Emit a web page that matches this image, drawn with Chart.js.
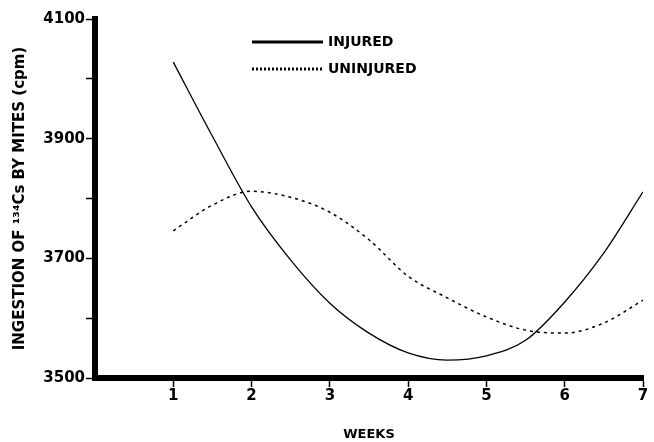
<!DOCTYPE html>
<html>
<head>
<meta charset="utf-8">
<script src="https://cdn.jsdelivr.net/npm/chart.js@4/dist/chart.umd.min.js"></script>
<style>
  html, body { margin: 0; padding: 0; background: #fff; }
  #wrap { width: 654px; height: 442px; position: relative; }
</style>
</head>
<body>
<div id="wrap"><canvas id="chart"></canvas></div>
<script>
// 数据
const seriesLabels = ['INJURED', 'UNINJURED'];
const injuredWeeks = [1, 1.5, 2, 2.5, 3, 3.5, 4, 4.5, 5, 5.5, 6, 6.5, 7];
const injuredValues = [4028, 3904, 3786, 3697, 3625, 3575, 3542, 3530, 3537, 3563, 3627, 3709, 3811];
const uninjuredWeeks = [1, 1.5, 2, 2.5, 3, 3.5, 4, 4.5, 5, 5.5, 6, 6.5, 7];
const uninjuredValues = [3746, 3789, 3812, 3802, 3777, 3731, 3670, 3634, 3602, 3580, 3575, 3592, 3630];
const yLabelled = [3500, 3700, 3900, 4100];

const FONT = '"DejaVu Sans", "Liberation Sans", sans-serif';

function toPoints(xs, ys) {
    return xs.map((x, i) => ({ x: x, y: ys[i] }));
}

// 图内图例
const inlineLegend = {
    id: 'inlineLegend',
    afterDraw(chart) {
        const ctx = chart.ctx;
        const rows = [42, 69];
        ctx.save();
        chart.data.datasets.forEach((ds, i) => {
            const y = rows[i];
            ctx.beginPath();
            ctx.strokeStyle = '#000';
            ctx.lineWidth = 3;
            ctx.setLineDash(ds.borderDash && ds.borderDash.length ? [2, 2] : []);
            ctx.moveTo(252, y);
            ctx.lineTo(323, y);
            ctx.stroke();
            ctx.setLineDash([]);
            ctx.fillStyle = '#000';
            ctx.font = 'bold 14px ' + FONT;
            ctx.textBaseline = 'middle';
            ctx.textAlign = 'left';
            ctx.fillText(ds.label, 328, y);
        });
        ctx.restore();
    }
};

new Chart(document.getElementById('chart'), {
    type: 'line',
    data: {
        datasets: [
            {
                label: seriesLabels[0],
                data: toPoints(injuredWeeks, injuredValues),
                borderColor: '#000',
                borderWidth: 1.3,
                pointRadius: 0,
                cubicInterpolationMode: 'monotone',
                fill: false
            },
            {
                label: seriesLabels[1],
                data: toPoints(uninjuredWeeks, uninjuredValues),
                borderColor: '#000',
                borderWidth: 1.5,
                borderDash: [3, 4],
                pointRadius: 0,
                cubicInterpolationMode: 'monotone',
                fill: false
            }
        ]
    },
    options: {
        responsive: true,
        maintainAspectRatio: false,
        animation: false,
        layout: { padding: { top: 19, right: 11, bottom: 0, left: 0 } },
        plugins: {
            legend: { display: false },
            tooltip: { enabled: false }
        },
        scales: {
            x: {
                type: 'linear',
                min: 0,
                max: 7,
                afterFit: function(scale) { scale.height = 64; },
                border: { display: true, color: '#000', width: 6 },
                grid: {
                    drawOnChartArea: false,
                    drawTicks: true,
                    tickLength: 9,
                    tickWidth: 1.5,
                    tickColor: function(c) { return c.tick && c.tick.value === 0 ? 'rgba(0,0,0,0)' : '#000'; }
                },
                ticks: {
                    stepSize: 1,
                    padding: 0,
                    color: '#000',
                    font: { family: FONT, size: 15, weight: 'bold' },
                    callback: function(value) { return value === 0 ? '' : value; }
                },
                title: {
                    display: true,
                    text: 'WEEKS',
                    color: '#000',
                    font: { family: FONT, size: 13, weight: 'bold' },
                    padding: { top: 0, bottom: 0 }
                }
            },
            y: {
                min: 3500,
                max: 4100,
                afterFit: function(scale) { scale.width = 95; },
                border: { display: true, color: '#000', width: 6 },
                grid: { drawOnChartArea: false, drawTicks: true, tickLength: 9, tickColor: '#000', tickWidth: 1.5 },
                ticks: {
                    stepSize: 100,
                    padding: 1,
                    color: '#000',
                    font: { family: FONT, size: 15, weight: 'bold' },
                    callback: function(value) { return yLabelled.includes(value) ? value : ''; }
                },
                title: {
                    display: true,
                    text: 'INGESTION OF ¹³⁴Cs BY MITES (cpm)',
                    color: '#000',
                    font: { family: FONT, size: 15, weight: 'bold' },
                    padding: { top: 11, bottom: 0 }
                }
            }
        }
    },
    plugins: [inlineLegend]
});
</script>
</body>
</html>
